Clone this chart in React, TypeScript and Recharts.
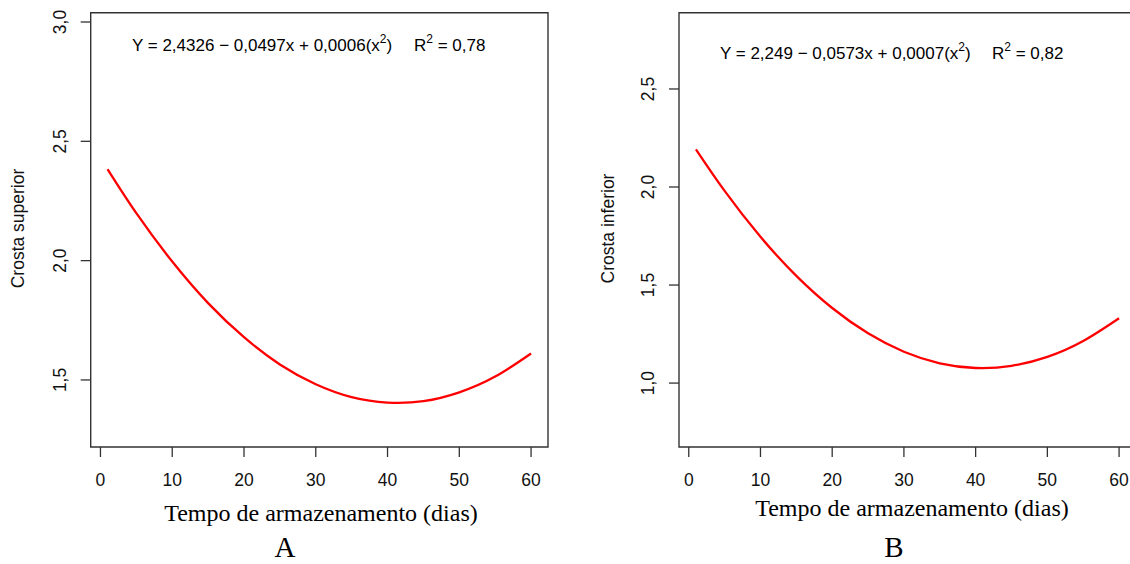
import React from "react";
import { LineChart, Line, XAxis, YAxis, ReferenceArea, Customized } from "recharts";

// ---- data ----
const days = [1, 5, 10, 15, 20, 25, 30, 35, 40, 45, 50, 55, 60];
const crostaSuperior = [2.383, 2.199, 1.996, 1.822, 1.679, 1.565, 1.482, 1.428, 1.405, 1.411, 1.448, 1.514, 1.611];
const crostaInferior = [2.192, 1.98, 1.746, 1.547, 1.383, 1.254, 1.16, 1.101, 1.077, 1.088, 1.134, 1.215, 1.331];
const xTicks = [0, 10, 20, 30, 40, 50, 60];
const yTicksA = [1.5, 2.0, 2.5, 3.0];
const yTicksB = [1.0, 1.5, 2.0, 2.5];
const xDomain: [number, number] = [-1.36, 62.36];
const yDomainA: [number, number] = [1.219, 3.039];
const yDomainB: [number, number] = [0.674, 2.889];

const SANS = "'Liberation Sans', Arial, sans-serif";
const SERIF = "'Liberation Serif', 'Times New Roman', serif";
const AXIS = "#333";

const fmt = (v: number) => v.toFixed(1).replace(".", ",");

const YTick = (props: any) => {
  const { x, y, payload } = props;
  return (
    <text
      x={x}
      y={y}
      transform={`rotate(-90 ${x} ${y})`}
      textAnchor="middle"
      fontSize={17.5}
      fontFamily={SANS}
      fill="#111"
    >
      {fmt(payload.value)}
    </text>
  );
};

type PanelProps = {
  values: number[];
  yDomain: [number, number];
  yTicks: number[];
  width: number;
  margin: { top: number; right: number; bottom: number; left: number };
  eqX: number;
  eqY: number;
  eqMain: string;
  r2X: number;
  r2Text: string;
  yLabel: string;
  yLabelX: number;
  xLabelX: number;
  xLabelY: number;
  letter: string;
  letterX: number;
};

const Panel = (p: PanelProps) => {
  const data = days.map((d, i) => ({ x: d, y: p.values[i] }));
  const Texts = () => (
    <g>
      <text x={p.eqX} y={p.eqY} fontSize={17} fontFamily={SANS} fill="#000">
        <tspan>{p.eqMain}</tspan>
        <tspan dy={-8} fontSize={12}>2</tspan>
        <tspan dy={8}>{")"}</tspan>
        <tspan x={p.r2X}>R</tspan>
        <tspan dy={-8} fontSize={12}>2</tspan>
        <tspan dy={8}>{" = " + p.r2Text}</tspan>
      </text>
      <text
        x={p.yLabelX}
        y={228.5}
        transform={`rotate(-90 ${p.yLabelX} 228.5)`}
        textAnchor="middle"
        fontSize={17.5}
        fontFamily={SANS}
        fill="#111"
      >
        {p.yLabel}
      </text>
      <text x={p.xLabelX} y={p.xLabelY} textAnchor="middle" fontSize={24} fontFamily={SERIF} fill="#000">
        Tempo de armazenamento (dias)
      </text>
      <text x={p.letterX} y={557} textAnchor="middle" fontSize={29} fontFamily={SERIF} fill="#000">
        {p.letter}
      </text>
    </g>
  );
  return (
    <LineChart width={p.width} height={564} data={data} margin={p.margin}>
      <XAxis
        type="number"
        dataKey="x"
        domain={xDomain}
        ticks={xTicks}
        allowDataOverflow
        interval={0}
        axisLine={false}
        tickLine={{ stroke: AXIS, strokeWidth: 1.3 }}
        tickSize={10}
        tickMargin={17}
        height={40}
        tick={{ fill: "#111", fontSize: 17.5, fontFamily: SANS }}
      />
      <YAxis
        type="number"
        domain={p.yDomain}
        ticks={p.yTicks}
        allowDataOverflow
        interval={0}
        axisLine={false}
        tickLine={{ stroke: AXIS, strokeWidth: 1.3 }}
        tickSize={10}
        tickMargin={15}
        width={60}
        tick={<YTick />}
      />
      <ReferenceArea
        x1={xDomain[0]}
        x2={xDomain[1]}
        y1={p.yDomain[0]}
        y2={p.yDomain[1]}
        fill="none"
        stroke={AXIS}
        strokeWidth={1.4}
        ifOverflow="visible"
      />
      <Line
        type="natural"
        dataKey="y"
        stroke="#ff0000"
        strokeWidth={2.3}
        dot={false}
        isAnimationActive={false}
      />
      <Customized component={Texts} />
    </LineChart>
  );
};

export default function App() {
  return (
    <div
      style={{
        position: "absolute",
        left: 0,
        top: 0,
        width: 1130,
        height: 564,
        overflow: "hidden",
        background: "#fff",
      }}
    >
      <div style={{ position: "absolute", left: 0, top: 0 }}>
        <Panel
          values={crostaSuperior}
          yDomain={yDomainA}
          yTicks={yTicksA}
          width={560}
          margin={{ top: 12.7, right: 12, bottom: 77, left: 30.7 }}
          eqX={132}
          eqY={50.7}
          eqMain="Y = 2,4326 − 0,0497x + 0,0006(x"
          r2X={414}
          r2Text="0,78"
          yLabel="Crosta superior"
          yLabelX={23.5}
          xLabelX={321}
          xLabelY={521}
          letter="A"
          letterX={285}
        />
      </div>
      <div style={{ position: "absolute", left: 560, top: 0 }}>
        <Panel
          values={crostaInferior}
          yDomain={yDomainB}
          yTicks={yTicksB}
          width={580}
          margin={{ top: 12.7, right: 4, bottom: 77, left: 59 }}
          eqX={160}
          eqY={59}
          eqMain="Y = 2,249 − 0,0573x + 0,0007(x"
          r2X={432}
          r2Text="0,82"
          yLabel="Crosta inferior"
          yLabelX={54}
          xLabelX={352}
          xLabelY={516}
          letter="B"
          letterX={334}
        />
      </div>
    </div>
  );
}
